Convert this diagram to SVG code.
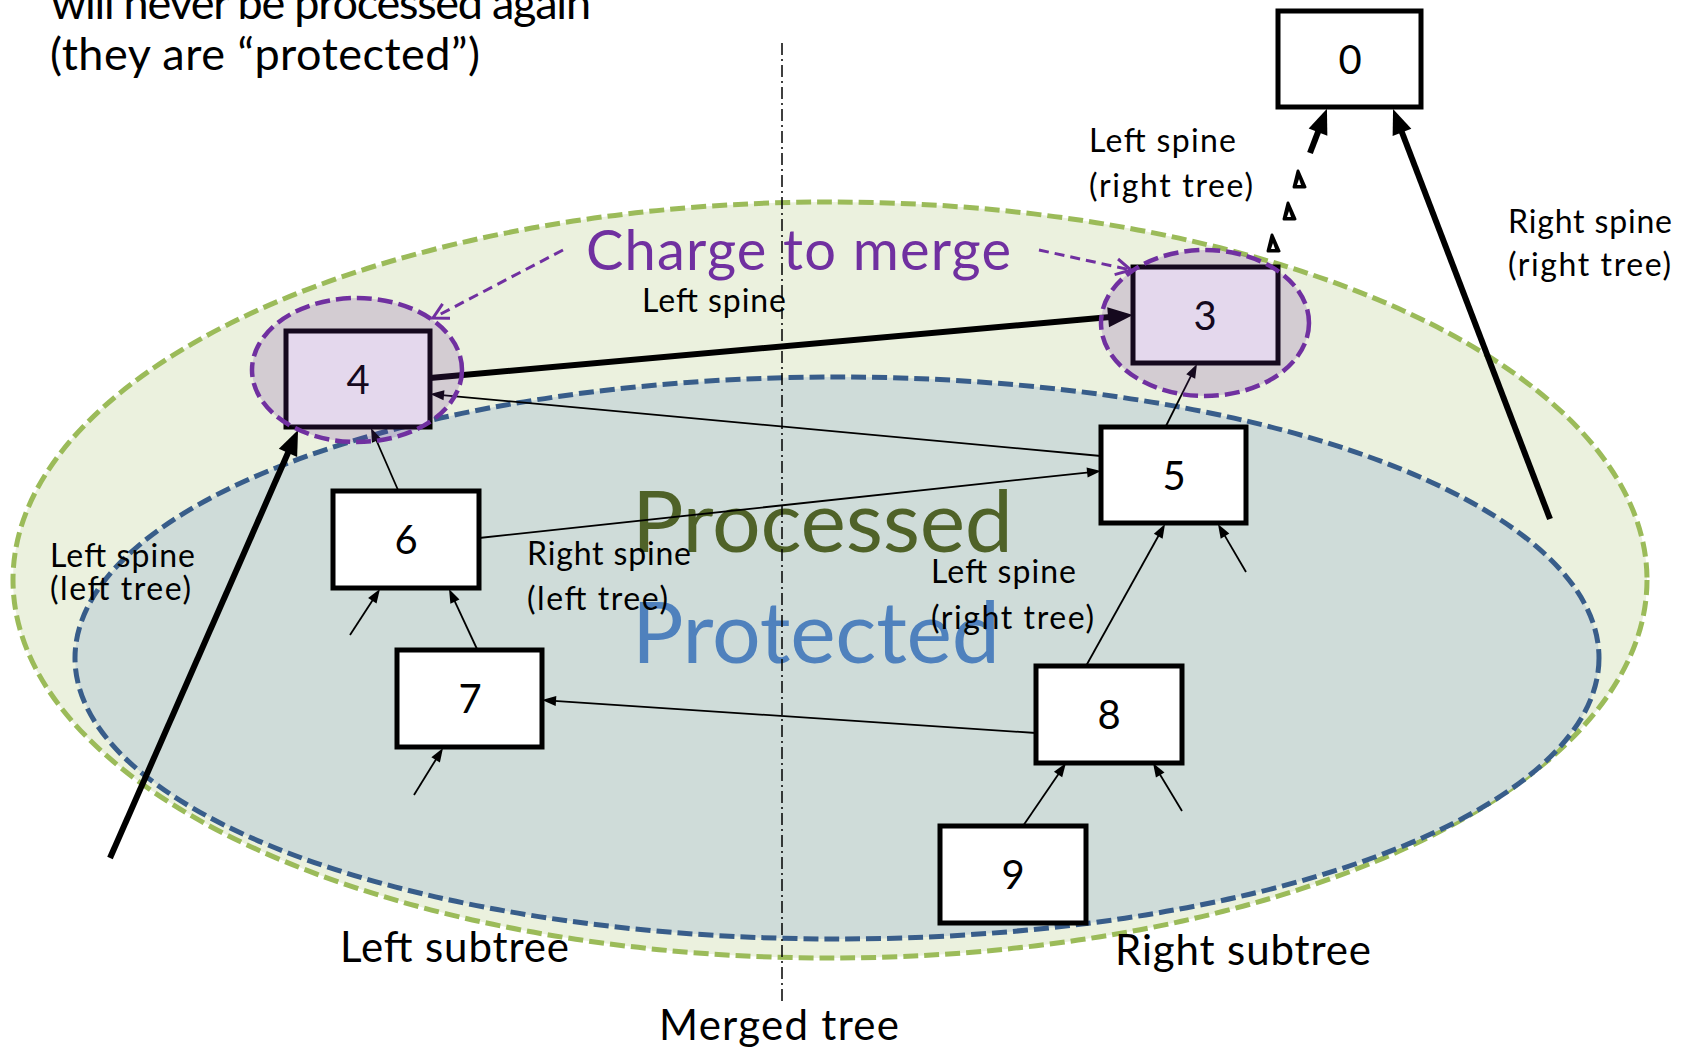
<svg xmlns="http://www.w3.org/2000/svg" width="1691" height="1051" viewBox="0 0 1691 1051">
<style>
text{font-family:Lato,'Liberation Sans',sans-serif;fill:#000}
.lbl{font-size:32px}
.big{font-size:45px}
.num{font-size:40px;text-anchor:middle}
.box{fill:#fff;stroke:#000;stroke-width:5}
.thin{stroke:#000;stroke-width:1.8;fill:none;marker-end:url(#ah)}
.thick{stroke:#000;stroke-width:6;fill:none;marker-end:url(#ahT)}
.pur{stroke:#7030a0;stroke-width:3;stroke-dasharray:10 6;fill:none;marker-end:url(#ahO)}
.hl{fill:#7030a0;fill-opacity:0.19;stroke:#7030a0;stroke-width:4.5;stroke-dasharray:15 6}
.tri{fill:#000;stroke:#000;stroke-width:3;stroke-linejoin:round}
</style>
<defs>
<marker id="ah" markerUnits="userSpaceOnUse" viewBox="-3 -6 16 12" markerWidth="16" markerHeight="12" refX="0" refY="0" orient="auto"><path d="M-2,-5 L12,0 L-2,5 z" fill="#000"/></marker>
<marker id="ahT" markerUnits="userSpaceOnUse" viewBox="-6 -11 27 22" markerWidth="27" markerHeight="22" refX="0" refY="0" orient="auto"><path d="M-5,-10 L20,0 L-5,10 z" fill="#000"/></marker>
<marker id="ahO" markerUnits="userSpaceOnUse" viewBox="-18 -11 22 22" markerWidth="22" markerHeight="22" refX="0" refY="0" orient="auto"><path d="M-15,-8 L0,0 L-15,8" fill="none" stroke="#7030a0" stroke-width="3"/></marker>
</defs>

<text class="big" x="51" y="19" textLength="540">will never be processed again</text>
<text class="big" x="50" y="70" textLength="430">(they are “protected”)</text>

<g id="regions">
<ellipse cx="830" cy="580" rx="817" ry="378" fill="#ebf1de" stroke="#9bbb59" stroke-width="5" stroke-dasharray="15 6"/>
<ellipse cx="837" cy="658" rx="762" ry="281" fill="#cfdcd9" stroke="#385d8a" stroke-width="5" stroke-dasharray="15 6"/>
</g>

<text x="632" y="552" font-size="86" textLength="381" style="fill:#4f6228">Processed</text>
<text x="632" y="663" font-size="86" textLength="368" style="fill:#4f81bd">Protected</text>

<g id="connectors">
<line class="thin" x1="1101" y1="456" x2="442" y2="395.1"/>
<line class="thin" x1="479" y1="538" x2="1089.1" y2="472.3"/>
<line class="thin" x1="398" y1="490" x2="375.8" y2="439"/>
<line class="thin" x1="1166" y1="426" x2="1191.6" y2="374.7"/>
<line class="thin" x1="477" y1="649" x2="454.1" y2="599.9"/>
<line class="thin" x1="350" y1="635" x2="373.4" y2="599.1"/>
<line class="thin" x1="414" y1="795" x2="436.7" y2="758.2"/>
<line class="thin" x1="1086" y1="666" x2="1159.2" y2="534.5"/>
<line class="thin" x1="1246" y1="572" x2="1224" y2="534.4"/>
<line class="thin" x1="1036" y1="733" x2="554" y2="700.8"/>
<line class="thin" x1="1023" y1="826" x2="1059.2" y2="772.9"/>
<line class="thin" x1="1182" y1="811" x2="1159.2" y2="773.3"/>
<line class="thick" x1="430" y1="378" x2="1113.1" y2="316.8"/>
<line class="thick" x1="110" y1="858" x2="290" y2="448.3"/>
<line class="thick" x1="1550" y1="519" x2="1400.2" y2="127.7"/>
<g id="dotted-3-0">
<path class="tri" d="M1272,235 L1279,251 L1268,251 z"/>
<path d="M1273,243 L1275,249 L1271,249 z" fill="#fff"/>
<path class="tri" d="M1288,203 L1295,219 L1284,219 z"/>
<path d="M1289,211 L1291,217 L1287,217 z" fill="#fff"/>
<path class="tri" d="M1298,171 L1305,187 L1294,187 z"/>
<path d="M1299,179 L1301,185 L1297,185 z" fill="#fff"/>
<line class="thick" x1="1310" y1="153" x2="1319.8" y2="127.4"/>
</g>
</g>

<g id="node0"><rect class="box" x="1278" y="11" width="143" height="96"/><text class="num" x="1350" y="74">0</text></g>
<g id="node5"><rect class="box" x="1101" y="427" width="145" height="96"/><text class="num" x="1174" y="490">5</text></g>
<g id="node6"><rect class="box" x="333" y="491" width="146" height="97"/><text class="num" x="406" y="554">6</text></g>
<g id="node7"><rect class="box" x="397" y="650" width="145" height="97"/><text class="num" x="470" y="713">7</text></g>
<g id="node8"><rect class="box" x="1036" y="666" width="146" height="97"/><text class="num" x="1109" y="729">8</text></g>
<g id="node9"><rect class="box" x="940" y="826" width="146" height="97"/><text class="num" x="1013" y="889">9</text></g>
<g id="node4"><rect class="box" x="286" y="331" width="144" height="96"/><text class="num" x="358" y="394">4</text><ellipse class="hl" cx="357" cy="370" rx="105" ry="72"/></g>
<g id="node3"><rect class="box" x="1133" y="267" width="145" height="96"/><text class="num" x="1205" y="330">3</text><ellipse class="hl" cx="1205" cy="323" rx="104" ry="73"/></g>

<g id="labels">
<text class="lbl" x="642" y="312" textLength="144">Left spine</text>
<text class="lbl" x="1089" y="152" textLength="147">Left spine</text>
<text class="lbl" x="1089" y="197" textLength="164">(right tree)</text>
<text class="lbl" x="1508" y="233" textLength="164">Right spine</text>
<text class="lbl" x="1508" y="276" textLength="163">(right tree)</text>
<text class="lbl" x="50" y="567" textLength="145">Left spine</text>
<text class="lbl" x="50" y="600" textLength="141">(left tree)</text>
<text class="lbl" x="527" y="565" textLength="164">Right spine</text>
<text class="lbl" x="527" y="610" textLength="141">(left tree)</text>
<text class="lbl" x="931" y="583" textLength="145">Left spine</text>
<text class="lbl" x="931" y="629" textLength="163">(right tree)</text>
<text x="340" y="962" font-size="42" textLength="229">Left subtree</text>
<text x="1115" y="965" font-size="42" textLength="256">Right subtree</text>
<text x="659" y="1040" font-size="42" textLength="240">Merged tree</text>
</g>

<line x1="782" y1="43" x2="782" y2="1003" stroke="#000" stroke-width="1.5" stroke-dasharray="12 4 2 4"/>

<g id="charge">
<line class="pur" x1="563" y1="250" x2="433" y2="318"/>
<line class="pur" x1="1039" y1="250" x2="1131" y2="270"/>
<text x="586" y="270" font-size="56" textLength="425" style="fill:#7030a0">Charge to merge</text>
</g>
</svg>
